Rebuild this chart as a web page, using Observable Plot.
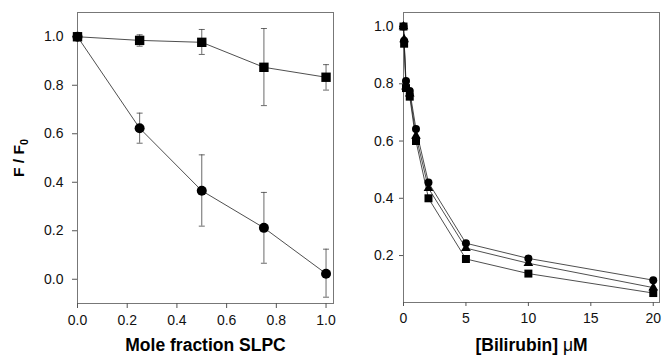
<!DOCTYPE html>
<html>
<head>
<meta charset="utf-8">
<script src="https://cdn.jsdelivr.net/npm/d3@7"></script>
<script src="https://cdn.jsdelivr.net/npm/@observablehq/plot@0.6"></script>
<style>
  body { margin: 0; background: white; }
  #wrap { display: flex; width: 662px; height: 356px; }
</style>
</head>
<body>
<div id="wrap"></div>
<script>
// ---- Left panel data: F/F0 vs mole fraction SLPC ----
const fraction = [0, 0.25, 0.5, 0.75, 1.0];
const squareMean = [1.0, 0.985, 0.977, 0.874, 0.833];
const squareLow  = [null, 0.961, 0.927, 0.716, 0.780];
const squareHigh = [null, 1.008, 1.030, 1.034, 0.885];
const circleMean = [1.0, 0.623, 0.365, 0.212, 0.023];
const circleLow  = [null, 0.561, 0.219, 0.066, -0.074];
const circleHigh = [null, 0.685, 0.513, 0.358, 0.124];
const leftXTicks = [0, 0.2, 0.4, 0.6, 0.8, 1.0];
const leftYTicks = [0, 0.2, 0.4, 0.6, 0.8, 1.0];

// ---- Right panel data: F/F0 vs [Bilirubin] µM ----
const bilirubin = [0, 0.05, 0.2, 0.5, 1, 2, 5, 10, 20];
const circleB   = [1.0, 0.95, 0.81, 0.775, 0.642, 0.455, 0.243, 0.19, 0.114];
const triangleB = [1.0, 0.955, 0.79, 0.765, 0.618, 0.435, 0.226, 0.173, 0.088];
const squareB   = [1.0, 0.94, 0.785, 0.755, 0.60, 0.40, 0.188, 0.137, 0.069];
const rightXTicks = [0, 5, 10, 15, 20];
const rightYTicks = [0.2, 0.4, 0.6, 0.8, 1.0];

const font = "'Liberation Sans', Arial, Helvetica, sans-serif";
const cap = { draw(context, size) { const r = Math.sqrt(size / Math.PI); context.moveTo(-r, 0); context.lineTo(r, 0); } };
const f1 = d3.format(".1f");

const leftRows = (mean, low, high, series) => fraction.map((x, i) => ({x, y: mean[i], lo: low[i], hi: high[i], series}));
const sq = leftRows(squareMean, squareLow, squareHigh, "square");
const ci = leftRows(circleMean, circleLow, circleHigh, "circle");
const errs = [...sq, ...ci].filter(d => d.lo != null);

const left = Plot.plot({
  width: 340, height: 356,
  marginLeft: 77, marginRight: 7, marginTop: 12, marginBottom: 53,
  style: {fontFamily: font, fontSize: "14px", color: "#111", background: "white"},
  x: {domain: [0, 1.03]},
  y: {domain: [-0.1, 1.1]},
  marks: [
    Plot.frame({stroke: "#777", strokeWidth: 1}),
    Plot.axisX({ticks: leftXTicks, tickFormat: f1, tickSize: 5, tickPadding: 7, fontSize: 14, label: null, stroke: "#555"}),
    Plot.axisY({ticks: leftYTicks, tickFormat: f1, tickSize: 5, tickPadding: 9, fontSize: 14, label: null, stroke: "#555"}),
    Plot.ruleX(errs, {x: "x", y1: "lo", y2: "hi", stroke: "#444", strokeWidth: 0.8}),
    Plot.dot(errs, {x: "x", y: "lo", symbol: cap, r: 3, stroke: "#444", strokeWidth: 0.8, fill: "none"}),
    Plot.dot(errs, {x: "x", y: "hi", symbol: cap, r: 3, stroke: "#444", strokeWidth: 0.8, fill: "none"}),
    Plot.line(sq, {x: "x", y: "y", stroke: "#222", strokeWidth: 0.8}),
    Plot.line(ci, {x: "x", y: "y", stroke: "#222", strokeWidth: 0.8}),
    Plot.dot(sq, {x: "x", y: "y", symbol: "square", r: 5.3, fill: "black", stroke: "none"}),
    Plot.dot(ci, {x: "x", y: "y", symbol: "circle", r: 5, fill: "black", stroke: "none"}),
    Plot.text(["Mole fraction SLPC"], {text: d => d, frameAnchor: "bottom", textAnchor: "middle", dy: 47, lineAnchor: "bottom", fontSize: 17.5, fontWeight: "bold", fill: "black"}),
    Plot.text(["F / F0"], {text: d => d, frameAnchor: "left", textAnchor: "middle", rotate: -90, dx: -58, lineAnchor: "middle", fontSize: 15.5, fontWeight: "bold", fill: "black"})
  ]
});

// subscript 0 in the y label
d3.select(left).selectAll("text").filter(function() { return this.textContent === "F / F0"; })
  .each(function() {
    const t = d3.select(this);
    t.text(null);
    t.append("tspan").text("F / F");
    t.append("tspan").attr("dy", "0.3em").attr("font-size", "0.7em").text("0");
  });

const rightRows = (vals, series) => bilirubin.map((x, i) => ({x, y: vals[i], series}));
const sqB = rightRows(squareB, "square");
const trB = rightRows(triangleB, "triangle");
const ciB = rightRows(circleB, "circle");

const right = Plot.plot({
  width: 322, height: 356,
  marginLeft: 63, marginRight: 3, marginTop: 12, marginBottom: 54,
  style: {fontFamily: font, fontSize: "14px", color: "#111", background: "white"},
  x: {domain: [0, 20.5]},
  y: {domain: [0.036, 1.049]},
  marks: [
    Plot.frame({stroke: "#777", strokeWidth: 1}),
    Plot.axisX({ticks: rightXTicks, tickSize: 4, tickPadding: 7, fontSize: 14, label: null, stroke: "#555"}),
    Plot.axisY({ticks: rightYTicks, tickFormat: f1, tickSize: 4, tickPadding: 6, fontSize: 14, label: null, stroke: "#555"}),
    Plot.line(sqB, {x: "x", y: "y", stroke: "#222", strokeWidth: 0.8}),
    Plot.line(trB, {x: "x", y: "y", stroke: "#222", strokeWidth: 0.8}),
    Plot.line(ciB, {x: "x", y: "y", stroke: "#222", strokeWidth: 0.8}),
    Plot.dot(sqB, {x: "x", y: "y", symbol: "square", r: 4.5, fill: "black", stroke: "none"}),
    Plot.dot(trB, {x: "x", y: "y", symbol: "triangle", r: 3.6, fill: "black", stroke: "none"}),
    Plot.dot(ciB, {x: "x", y: "y", symbol: "circle", r: 4, fill: "black", stroke: "none"}),
    Plot.text(["[Bilirubin] μM"], {text: d => d, frameAnchor: "bottom", textAnchor: "middle", dy: 48, lineAnchor: "bottom", fontSize: 17.5, fontWeight: "bold", fill: "black"})
  ]
});

// render the μ in regular weight like the reference
d3.select(right).selectAll("text").filter(function() { return this.textContent === "[Bilirubin] μM"; })
  .each(function() {
    const t = d3.select(this);
    t.text(null);
    t.append("tspan").text("[Bilirubin] ");
    t.append("tspan").attr("font-weight", "normal").text("μ");
    t.append("tspan").text("M");
  });

document.getElementById("wrap").append(left, right);
</script>
</body>
</html>
